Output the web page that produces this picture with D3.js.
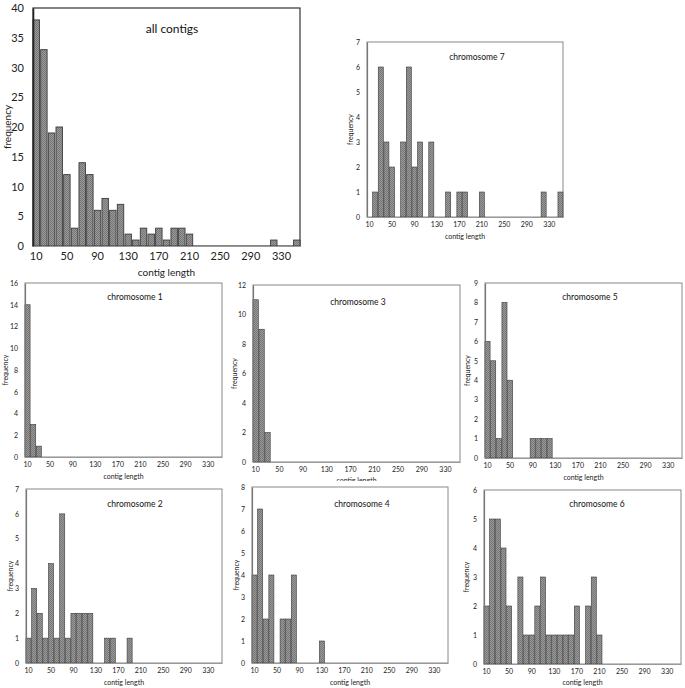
<!DOCTYPE html>
<html>
<head>
<meta charset="utf-8">
<script src="https://cdn.jsdelivr.net/npm/d3@7"></script>
<style>
  body { margin: 0; background: #fff; }
  svg { display: block; font-family: Lato, "Open Sans", sans-serif; }
</style>
</head>
<body>
<svg id="chart" width="685" height="688"></svg>
<script>
// contig length bins (10 .. 350)
var bins = [10,20,30,40,50,60,70,80,90,100,110,120,130,140,150,160,170,180,
            190,200,210,220,230,240,250,260,270,280,290,300,310,320,330,340,350]
var tickLabels = [10,50,90,130,170,210,250,290,330]

var allContigs = [38,33,19,20,12,3,14,12,6,8,6,7,2,1,3,2,3,1,3,3,2,0,0,0,0,0,0,0,0,0,0,1,0,0,1]
var chr1 = [14,3,1,0,0,0,0,0,0,0,0,0,0,0,0,0,0,0,0,0,0,0,0,0,0,0,0,0,0,0,0,0,0,0,0]
var chr2 = [1,3,2,1,4,1,6,1,2,2,2,2,0,0,1,1,0,0,1,0,0,0,0,0,0,0,0,0,0,0,0,0,0,0,0]
var chr3 = [11,9,2,0,0,0,0,0,0,0,0,0,0,0,0,0,0,0,0,0,0,0,0,0,0,0,0,0,0,0,0,0,0,0,0]
var chr4 = [4,7,2,4,0,2,2,4,0,0,0,0,1,0,0,0,0,0,0,0,0,0,0,0,0,0,0,0,0,0,0,0,0,0,0]
var chr5 = [6,5,1,8,4,0,0,0,1,1,1,1,0,0,0,0,0,0,0,0,0,0,0,0,0,0,0,0,0,0,0,0,0,0,0]
var chr6 = [2,5,5,4,2,0,3,1,1,2,3,1,1,1,1,1,2,0,2,3,1,0,0,0,0,0,0,0,0,0,0,0,0,0,0]
var chr7 = [0,1,6,3,2,0,3,6,2,3,0,3,0,0,1,0,1,1,0,0,1,0,0,0,0,0,0,0,0,0,0,1,0,0,1]

// panel layout (draw order matters: later panels cover earlier ones)
var panels = [
  {title: 'all contigs', values: allContigs, ymax: 40, step: 5, big: true,
   bg: [0, 0, 340, 285], x0: 33, x1: 300, y0: 8, y1: 246,
   tx: 172, ty: 33, ylx: 7, xly: 276},
  {title: 'chromosome 7', values: chr7, ymax: 7, step: 1,
   bg: [340, 30, 345, 220], x0: 367, x1: 563, y0: 42, y1: 217,
   tx: 477, ty: 60, ylx: 351, xly: 239},
  {title: 'chromosome 1', values: chr1, ymax: 16, step: 2,
   bg: [0, 279, 228, 202], x0: 25, x1: 222, y0: 283, y1: 457,
   tx: 135, ty: 300, ylx: 6, xly: 479},
  {title: 'chromosome 3', values: chr3, ymax: 12, step: 2,
   bg: [228, 279, 232, 202], x0: 253, x1: 460, y0: 285, y1: 462,
   tx: 358, ty: 305, ylx: 235, xly: 483},
  {title: 'chromosome 5', values: chr5, ymax: 9, step: 1,
   bg: [462, 275, 223, 206], x0: 485, x1: 682, y0: 283, y1: 458,
   tx: 590, ty: 300, ylx: 468, xly: 480},
  {title: 'chromosome 2', values: chr2, ymax: 7, step: 1,
   bg: [0, 481, 228, 207], x0: 26, x1: 222, y0: 489, y1: 663,
   tx: 135, ty: 507, ylx: 11, xly: 685},
  {title: 'chromosome 4', values: chr4, ymax: 8, step: 1,
   bg: [228, 481, 230, 207], x0: 252, x1: 448, y0: 487, y1: 663,
   tx: 362, ty: 507, ylx: 237, xly: 685},
  {title: 'chromosome 6', values: chr6, ymax: 6, step: 1,
   bg: [462, 483, 223, 205], x0: 484, x1: 681, y0: 490, y1: 664,
   tx: 597, ty: 507, ylx: 467, xly: 685}
]

var svg = d3.select('#chart')

// checkered bar texture
var defs = svg.append('defs')
var pat = defs.append('pattern')
  .attr('id', 'tex')
  .attr('patternUnits', 'userSpaceOnUse')
  .attr('width', 2).attr('height', 2)
pat.append('rect').attr('width', 2).attr('height', 2).attr('fill', '#9a9a9a')
pat.append('rect').attr('width', 1).attr('height', 1).attr('fill', '#767676')
pat.append('rect').attr('x', 1).attr('y', 1).attr('width', 1).attr('height', 1).attr('fill', '#767676')

panels.forEach(function (p) {
  var g = svg.append('g')
  var big = !!p.big
  var tickSize = big ? 11 : 7
  var labSize = big ? 10 : 7
  var titleSize = big ? 12 : 8.5

  g.append('rect')
    .attr('x', p.bg[0]).attr('y', p.bg[1])
    .attr('width', p.bg[2]).attr('height', p.bg[3])
    .attr('fill', '#fff')

  var x = d3.scaleBand()
    .domain(bins)
    .range([p.x0, p.x1])
    .paddingInner(big ? 0.16 : 0.1)
    .paddingOuter(0)

  var y = d3.scaleLinear()
    .domain([0, p.ymax])
    .range([p.y1, p.y0])

  // frame
  g.append('rect')
    .attr('x', p.x0).attr('y', p.y0)
    .attr('width', p.x1 - p.x0).attr('height', p.y1 - p.y0)
    .attr('fill', 'none')
    .attr('stroke', big ? '#333' : '#888')
    .attr('stroke-width', big ? 1.2 : 1)

  var data = bins.map(function (b, i) { return {bin: b, n: p.values[i]} })
    .filter(function (d) { return d.n > 0 })

  g.selectAll('rect.bar')
    .data(data)
    .enter().append('rect')
    .attr('class', 'bar')
    .attr('x', function (d) { return x(d.bin) })
    .attr('y', function (d) { return y(d.n) })
    .attr('width', x.bandwidth())
    .attr('height', function (d) { return y(0) - y(d.n) })
    .attr('fill', 'url(#tex)')
    .attr('stroke', '#3a3a3a')
    .attr('stroke-width', big ? 0.9 : 0.6)

  // y axis
  var yAxis = d3.axisLeft(y)
    .tickValues(d3.range(0, p.ymax + 0.001, p.step))
    .tickFormat(d3.format('d'))
    .tickSize(0)
    .tickPadding(big ? 9 : 7)
  var ya = g.append('g')
    .attr('transform', 'translate(' + p.x0 + ',0)')
    .call(yAxis)
  ya.select('.domain').attr('stroke', big ? '#222' : '#777').attr('stroke-width', big ? 1.6 : 1.2)
  ya.selectAll('text')
    .style('font-size', tickSize + 'px')
    .style('font-family', 'Lato, sans-serif')
    .attr('fill', '#222')

  // x axis
  var xAxis = d3.axisBottom(x)
    .tickValues(tickLabels)
    .tickSize(0)
    .tickPadding(big ? 6 : 5)
  var xa = g.append('g')
    .attr('transform', 'translate(0,' + p.y1 + ')')
    .call(xAxis)
  xa.select('.domain').attr('stroke', '#999')
  xa.selectAll('text')
    .style('font-size', tickSize + 'px')
    .style('font-family', 'Lato, sans-serif')
    .attr('fill', '#222')

  g.append('text')
    .attr('x', p.tx).attr('y', p.ty)
    .attr('text-anchor', 'middle')
    .style('font-size', titleSize + 'px')
    .attr('fill', '#111')
    .text(p.title)

  g.append('text')
    .attr('x', (p.x0 + p.x1) / 2)
    .attr('y', p.xly)
    .attr('text-anchor', 'middle')
    .style('font-size', labSize + 'px')
    .attr('fill', '#222')
    .text('contig length')

  g.append('text')
    .attr('transform', 'translate(' + p.ylx + ',' + (p.y0 + p.y1) / 2 + ') rotate(-90)')
    .attr('text-anchor', 'middle')
    .attr('dy', '0.35em')
    .style('font-size', labSize + 'px')
    .attr('fill', '#222')
    .text('frequency')
})
</script>
</body>
</html>
